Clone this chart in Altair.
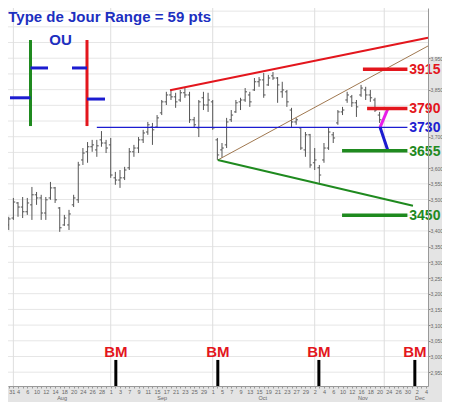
import altair as alt
import pandas as pd

# ---------------- data (trading-day index: 0 = Mon 27 Jul 2009) ----------------
day_idx = list(range(4, 85))
opens = [3419, 3441, 3489, 3476, 3461, 3483, 3515, 3505, 3457, 3505, 3537, 3473, 3419, 3419, 3483, 3499,
         3626, 3652, 3668, 3658, 3690, 3680, 3674, 3569, 3562, 3569, 3601, 3652, 3664, 3690, 3715, 3731,
         3731, 3776, 3811, 3833, 3827, 3817, 3840, 3833, 3754, 3728, 3824, 3801, 3811, 3690, 3658, 3674,
         3754, 3779, 3811, 3817, 3833, 3849, 3875, 3881, 3865, 3894, 3887, 3843, 3843, 3785, 3747, 3728,
         3658, 3706, 3617, 3601, 3626, 3664, 3706, 3744, 3779, 3817, 3827, 3808, 3833, 3849, 3833, 3817, 3769]
highs = [3445, 3505, 3492, 3508, 3505, 3540, 3524, 3515, 3508, 3556, 3540, 3476, 3451, 3467, 3515, 3620,
         3664, 3683, 3690, 3690, 3718, 3690, 3696, 3588, 3594, 3604, 3664, 3674, 3699, 3722, 3747, 3744,
         3769, 3817, 3843, 3849, 3840, 3849, 3855, 3843, 3763, 3817, 3843, 3840, 3817, 3696, 3680, 3760,
         3785, 3817, 3824, 3855, 3843, 3887, 3890, 3903, 3897, 3906, 3890, 3875, 3849, 3792, 3760, 3731,
         3715, 3709, 3664, 3610, 3680, 3728, 3715, 3785, 3795, 3843, 3833, 3817, 3865, 3859, 3849, 3824, 3779]
lows = [3403, 3435, 3445, 3441, 3451, 3435, 3483, 3435, 3435, 3499, 3489, 3397, 3416, 3403, 3476, 3489,
        3610, 3617, 3652, 3636, 3668, 3648, 3569, 3547, 3537, 3562, 3594, 3636, 3648, 3680, 3706, 3674,
        3728, 3769, 3801, 3817, 3792, 3811, 3824, 3744, 3728, 3699, 3785, 3779, 3722, 3626, 3633, 3664,
        3747, 3776, 3785, 3811, 3795, 3846, 3859, 3824, 3862, 3881, 3808, 3824, 3795, 3731, 3738, 3658,
        3636, 3601, 3594, 3553, 3617, 3658, 3680, 3738, 3769, 3808, 3795, 3763, 3827, 3817, 3811, 3779, 3744]
closes = [3438, 3492, 3476, 3461, 3489, 3515, 3505, 3457, 3499, 3537, 3499, 3410, 3441, 3454, 3505, 3610,
          3648, 3668, 3674, 3671, 3680, 3664, 3578, 3562, 3569, 3594, 3652, 3664, 3690, 3712, 3738, 3722,
          3760, 3811, 3833, 3827, 3811, 3840, 3833, 3754, 3738, 3811, 3801, 3817, 3728, 3642, 3664, 3747,
          3769, 3808, 3817, 3843, 3811, 3875, 3881, 3833, 3887, 3887, 3865, 3849, 3811, 3747, 3754, 3664,
          3706, 3610, 3626, 3578, 3664, 3715, 3696, 3779, 3785, 3833, 3808, 3795, 3855, 3833, 3824, 3785, 3754]

# x axis labels (every 2nd trading day from index 2 = 29 Jul)
day_labels = ['29', '31', '4', '6', '10', '12', '14', '18', '20', '24', '26', '28',
              '1', '3', '7', '9', '11', '15', '17', '21', '23', '25', '29',
              '1', '5', '7', '9', '13', '15', '19', '21', '23', '27', '29',
              '2', '4', '6', '10', '12', '16', '18', '20', '24', '26', '30', '2', '4']
month_names = ['Aug', 'Sep', 'Oct', 'Nov', 'Dec']
month_pos = [15.5, 37.1, 58.8, 80.4, 92.7]
month_starts = [5, 26, 48, 70, 85]

y_grid = list(range(2950, 4101, 50))
y_labels = [v for v in range(2950, 3951, 50) if v not in (3900, 3800, 3750, 3650, 3450)]

# key levels
level_values = [3915, 3790, 3730, 3655, 3450]
level_names = ['3915', '3790', '3730', '3655', '3450']
level_start = [80.4, 81.3, 23.0, 75.9, 75.9]

# trend lines: (x1, y1, x2, y2)
trend_x1 = [38.8, 49.1, 49.1, 84.1, 84.1]
trend_y1 = [3848, 3626, 3626, 3730, 3730]
trend_x2 = [94.44, 94.44, 91.2, 85.8, 85.8]
trend_y2 = [4015, 3989, 3480, 3790, 3655]

# legend glyphs (bar schematic)
glyph_x1 = [8.69, 4.27, 8.69, 20.88, 17.65, 20.88]
glyph_y1 = [4008, 3824, 3919, 4008, 3919, 3820]
glyph_x2 = [8.69, 8.69, 12.47, 20.88, 20.88, 24.76]
glyph_y2 = [3734, 3824, 3919, 3734, 3919, 3820]

bm_days = [27.1, 49.1, 70.9, 91.6]

# ---------------- styles ----------------
RED = '#e3161d'
GREEN = '#1f8a1f'
BLUE = '#1c1cd0'
TBLUE = '#1c2fc0'
BROWN = '#a07850'
MAG = '#e81ee8'
BARC = '#555555'
FONT = 'Liberation Sans'

XD = [3.84, 94.44]
YD = [2906, 4110]
xs = alt.Scale(domain=XD, nice=False, zero=False)
ys = alt.Scale(domain=YD, nice=False, zero=False)

x_expr = "datum.value % 2 == 0 ? [" + ",".join("'%s'" % s for s in day_labels) + "][(datum.value - 2) / 2] : ''"
AX = alt.Axis(orient='bottom', values=list(range(4, 95)), labelExpr=x_expr, title=None,
              tickSize=2, tickColor='#999999', domainColor='#999999',
              labelAlign={'condition': {'test': 'datum.value < 5', 'value': 'left'}, 'value': 'center'},
              labelFontSize=5.5, labelColor='#666666', labelPadding=1, labelFont=FONT,
              labelFlush=False, labelOverlap=False, grid=False, zindex=1)
AY = alt.Axis(orient='right', values=y_labels, title=None, tickSize=2, tickColor='#888888',
              domainColor='#999999', labelFontSize=5, labelColor='#666666',
              labelPadding=0, labelFont=FONT, grid=False, zindex=1,
              labelOverlap=False, labelFlush=False)


def X(f):
    return alt.X(f, scale=xs, axis=AX)


def Y(f):
    return alt.Y(f, scale=ys, axis=AY)


ohlc = pd.DataFrame({'k': day_idx, 'open': opens, 'high': highs, 'low': lows, 'close': closes})

# backgrounds outside plot (right label panel, bottom band)
bg = pd.DataFrame({'x1': [XD[1], XD[0] - 3], 'x2': [XD[1] + 6, XD[1] + 6],
                   'y1': [3955, YD[0]], 'y2': [YD[0], YD[0] - 80]})
bg_layer = alt.Chart(bg).mark_rect(color='#e4e4e4').encode(
    x=X('x1:Q'), x2='x2:Q', y=Y('y1:Q'), y2='y2:Q')

hgrid = alt.Chart(pd.DataFrame({'v': y_grid, 'a': XD[0], 'b': XD[1]})).mark_rule(
    color='#e6e6e6', strokeWidth=1).encode(y=Y('v:Q'), x=X('a:Q'), x2='b:Q')
vgrid = alt.Chart(pd.DataFrame({'k': month_starts, 'a': YD[0], 'b': YD[1]})).mark_rule(
    color='#dedede', strokeWidth=1).encode(x=X('k:Q'), y=Y('a:Q'), y2='b:Q')

base = alt.Chart(ohlc)
bars = base.mark_rule(color=BARC, strokeWidth=1, clip=True).encode(
    x=X('k:Q'), y=Y('low:Q'), y2='high:Q')
otick = base.transform_calculate(xo='datum.k - 0.4').mark_rule(
    color=BARC, strokeWidth=1, clip=True).encode(x=X('xo:Q'), x2='k:Q', y=Y('open:Q'))
ctick = base.transform_calculate(xc='datum.k + 0.4').mark_rule(
    color=BARC, strokeWidth=1, clip=True).encode(x=X('k:Q'), x2='xc:Q', y=Y('close:Q'))

trend_styles = pd.DataFrame({'c': [RED, BROWN, GREEN, MAG, BLUE], 'w': [2, 1, 2, 3, 3]})
trend = pd.concat([pd.DataFrame({'x1': trend_x1, 'y1': trend_y1, 'x2': trend_x2, 'y2': trend_y2}),
                   trend_styles], axis=1)
trend_layer = alt.Chart(trend).mark_rule().encode(
    x=X('x1:Q'), y=Y('y1:Q'), x2='x2:Q', y2='y2:Q',
    color=alt.Color('c:N', scale=None), size=alt.Size('w:Q', scale=None))

levels = pd.DataFrame({'v': level_values, 't': level_names, 'x1': level_start, 'x2': 90.0, 'tx': 90.4,
                       'c': [RED, RED, BLUE, GREEN, GREEN], 'w': [3.5, 3.5, 1.3, 3.5, 3.5]})
level_lines = alt.Chart(levels).mark_rule().encode(
    x=X('x1:Q'), x2='x2:Q', y=Y('v:Q'),
    color=alt.Color('c:N', scale=None), size=alt.Size('w:Q', scale=None))
level_text = alt.Chart(levels).mark_text(align='left', baseline='middle', font=FONT,
                                         fontWeight='bold', fontSize=14, dy=1).encode(
    x=X('tx:Q'), y=Y('v:Q'), text='t:N', color=alt.Color('c:N', scale=None))

glyphs = pd.DataFrame({'x1': glyph_x1, 'y1': glyph_y1, 'x2': glyph_x2, 'y2': glyph_y2,
                       'c': [GREEN, BLUE, BLUE, RED, BLUE, BLUE], 'w': [3, 3, 3, 3, 3, 3]})
glyph_layer = alt.Chart(glyphs).mark_rule().encode(
    x=X('x1:Q'), y=Y('y1:Q'), x2='x2:Q', y2='y2:Q',
    color=alt.Color('c:N', scale=None), size=alt.Size('w:Q', scale=None))

title_df = pd.DataFrame({'x': [3.9], 'y': [4065], 't': ['Type de Jour Range = 59 pts']})
title_layer = alt.Chart(title_df).mark_text(align='left', baseline='alphabetic', font=FONT,
                                            fontWeight='bold', fontSize=15, color=TBLUE).encode(
    x=X('x:Q'), y=Y('y:Q'), text='t:N')
ou_df = pd.DataFrame({'x': [15.16], 'y': [3992], 't': ['OU']})
ou_layer = alt.Chart(ou_df).mark_text(align='center', baseline='alphabetic', font=FONT,
                                      fontWeight='bold', fontSize=15, color=TBLUE).encode(
    x=X('x:Q'), y=Y('y:Q'), text='t:N')

bm = pd.DataFrame({'k': bm_days, 't': ['BM'] * len(bm_days), 'top': 2989, 'bot': YD[0], 'ty': 2999})
bm_rules = alt.Chart(bm).mark_rule(color='black', strokeWidth=3).encode(
    x=X('k:Q'), y=Y('top:Q'), y2='bot:Q')
bm_text = alt.Chart(bm).mark_text(align='center', baseline='alphabetic', font=FONT,
                                  fontWeight='bold', fontSize=15, color=RED).encode(
    x=X('k:Q'), y=Y('ty:Q'), text='t:N')

months = pd.DataFrame({'k': month_pos, 't': month_names, 'y': 2868})
month_text = alt.Chart(months).mark_text(align='center', baseline='middle', font=FONT,
                                         fontSize=5.5, color='#666666').encode(
    x=X('k:Q'), y=Y('y:Q'), text='t:N')

chart = alt.layer(
    bg_layer, hgrid, vgrid, bars, otick, ctick, trend_layer, level_lines, glyph_layer,
    bm_rules, bm_text, title_layer, ou_layer, month_text, level_text
).properties(
    width=420, height=378,
    autosize=alt.AutoSizeParams(type='none'),
    padding={'left': 0, 'top': 0, 'right': 14, 'bottom': 16},
    background='white'
).configure_view(stroke=None)

chart.save('out.html', embed_options={'renderer': 'svg', 'actions': False})
